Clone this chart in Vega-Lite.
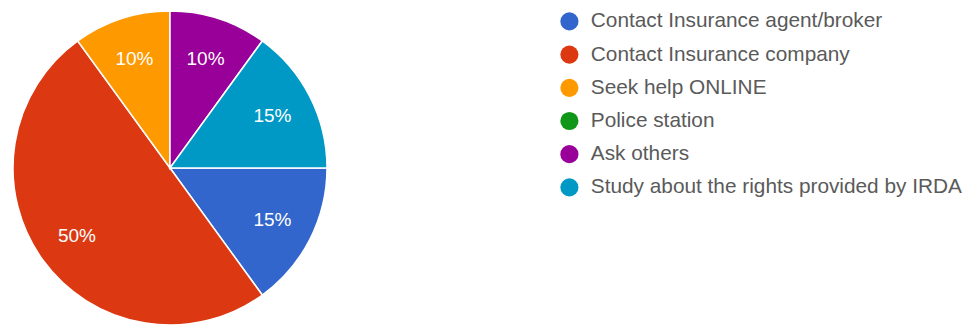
{
  "$schema": "https://vega.github.io/schema/vega-lite/v6.json",
  "width": 340,
  "height": 336,
  "autosize": {"type": "none"},
  "padding": {"left": 0, "top": 0, "right": 631, "bottom": -9},
  "background": "white",
  "config": {"view": {"stroke": null}, "font": "Liberation Sans"},
  "data": {
    "values": [
      {"answer": "Contact Insurance agent/broker", "share": 0.15, "idx": 1},
      {"answer": "Contact Insurance company", "share": 0.5, "idx": 2},
      {"answer": "Seek help ONLINE", "share": 0.1, "idx": 3},
      {"answer": "Police station", "share": 0, "idx": 4},
      {"answer": "Ask others", "share": 0.1, "idx": 5},
      {"answer": "Study about the rights provided by IRDA", "share": 0.15, "idx": 6}
    ]
  },
  "encoding": {
    "theta": {"field": "share", "type": "quantitative", "stack": true, "scale": {"range": [1.5708, 7.854]}},
    "order": {"field": "idx", "type": "quantitative"},
    "color": {
      "field": "answer",
      "type": "nominal",
      "scale": {
        "domain": ["Contact Insurance agent/broker", "Contact Insurance company", "Seek help ONLINE", "Police station", "Ask others", "Study about the rights provided by IRDA"],
        "range": ["#3366cc", "#dc3912", "#ff9900", "#109618", "#990099", "#0099c6"]
      },
      "legend": {
        "title": null,
        "orient": "none",
        "legendX": 559,
        "legendY": 11,
        "symbolType": "circle",
        "symbolSize": 330,
        "symbolStrokeWidth": 0,
        "rowPadding": 11.2,
        "labelFontSize": 20.8,
        "labelColor": "#5a5a5a",
        "labelOffset": 11,
        "labelLimit": 450,
        "labelFont": "Liberation Sans"
      }
    }
  },
  "layer": [
    {
      "mark": {"type": "arc", "outerRadius": 157, "stroke": "white", "strokeWidth": 1.5}
    },
    {
      "transform": [{"filter": "datum.share > 0"}],
      "mark": {"type": "text", "radius": 115, "fontSize": 19, "fill": "white", "font": "Liberation Sans"},
      "encoding": {
        "text": {"field": "share", "type": "quantitative", "format": ".0%"},
        "color": {"value": "white"}
      }
    }
  ]
}
